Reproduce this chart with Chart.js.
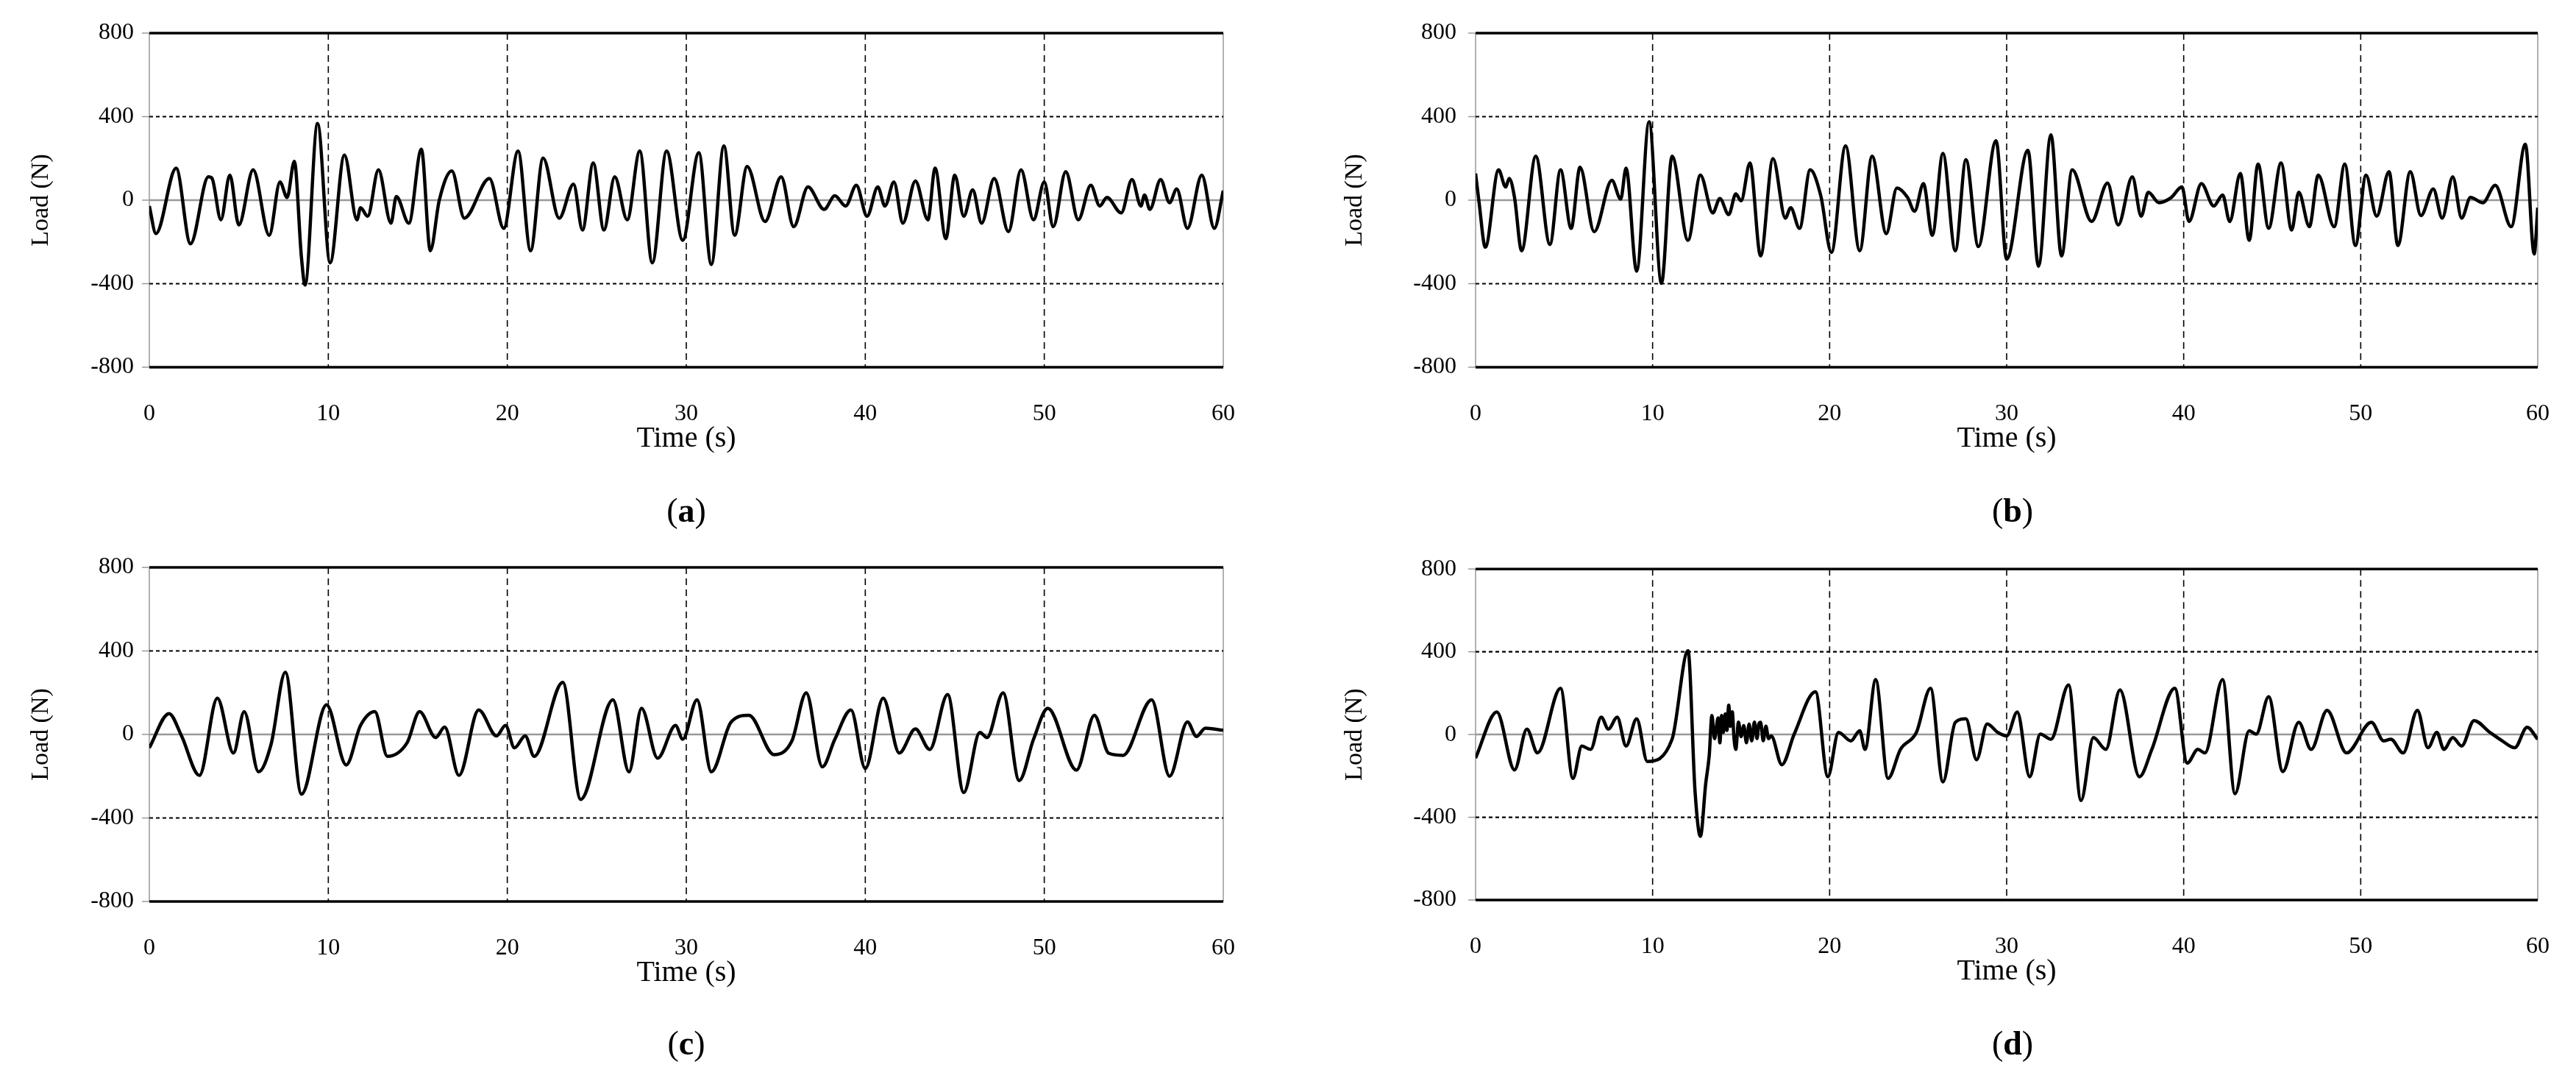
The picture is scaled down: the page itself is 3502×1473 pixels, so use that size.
<!DOCTYPE html>
<html><head><meta charset="utf-8">
<script src="https://cdn.jsdelivr.net/npm/chart.js@4.4.1/dist/chart.umd.min.js"></script>
<style>
body{margin:0;background:#fff;width:3502px;height:1473px;position:relative;overflow:hidden;font-family:"Liberation Serif",serif}
.p{position:absolute;width:1751px;height:736px}
.lab{position:absolute;font-size:46px;color:#000;transform:translate(-50%,-50%);white-space:nowrap}
</style></head><body>
<script>
const xTicks=[0,10,20,30,40,50,60];
const yTicks=[-800,-400,0,400,800];
const aT=[0,0.37,1.5,2.3,3.3,3.5,4.0,4.5,5.0,5.8,6.7,7.3,7.7,8.1,8.5,8.7,9.4,10.1,10.9,11.6,11.8,12.2,12.8,13.5,13.8,14.5,15.2,15.7,16.2,16.9,17.6,19.0,19.8,20.6,21.3,22.0,22.9,23.7,24.2,24.8,25.4,26.0,26.7,27.4,28.1,28.9,29.8,30.7,31.4,32.1,32.7,33.4,34.4,35.3,36.0,36.8,37.7,38.3,38.9,39.5,40.1,40.7,41.1,41.6,42.1,42.8,43.5,43.9,44.5,45.0,45.5,46.0,46.5,47.2,48.0,48.7,49.4,50.0,50.5,51.2,51.9,52.6,53.1,53.5,54.3,54.9,55.4,55.6,55.9,56.5,57.0,57.4,58.0,58.8,59.5,60];
const aV=[-28,-160,153,-209,112,105,-94,120,-119,145,-168,87,13,186,-275,-406,367,-300,216,-94,-36,-77,145,-110,18,-110,244,-242,0,140,-86,104,-135,235,-242,202,-86,77,-143,178,-143,112,-94,235,-300,235,-192,227,-308,260,-168,161,-102,112,-127,63,-44,21,-28,71,-77,63,-28,87,-110,92,-94,153,-184,120,-77,49,-110,104,-151,145,-94,87,-127,137,-94,71,-28,13,-61,99,-28,25,-44,99,-12,54,-135,120,-135,46];
const bT=[0,0.2,0.55,1.3,1.7,1.9,2.2,2.6,3.4,4.2,4.8,5.4,5.9,6.7,7.7,8.2,8.5,9.1,9.8,10.5,11.1,12.0,12.7,13.4,13.8,14.3,14.7,15.0,15.5,16.1,16.8,17.5,17.8,18.3,18.9,19.5,20.1,20.9,21.7,22.4,23.2,23.8,24.4,24.8,25.3,25.8,26.4,27.1,27.7,28.4,29.4,30.0,31.2,31.8,32.5,33.1,33.7,34.8,35.7,36.3,37.1,37.6,38.0,38.6,39.3,39.9,40.3,41.0,41.7,42.2,42.6,43.2,43.7,44.2,44.8,45.5,46.1,46.5,47.1,47.6,48.5,49.1,49.7,50.3,50.9,51.6,52.1,52.8,53.4,54.1,54.6,55.2,55.7,56.2,56.9,57.6,58.5,59.3,59.8,60];
const bV=[128,-12,-225,145,63,104,13,-242,211,-212,145,-135,158,-151,95,5,153,-340,375,-398,211,-192,120,-61,8,-69,30,-3,178,-267,199,-86,-36,-135,145,21,-250,260,-242,211,-160,58,13,-53,79,-168,224,-242,194,-222,285,-283,239,-316,313,-267,145,-102,82,-119,112,-77,38,-12,13,63,-102,79,-28,25,-102,128,-192,173,-135,178,-143,38,-127,120,-127,173,-217,120,-77,137,-217,137,-74,54,-86,112,-86,13,-12,71,-127,268,-258,-36];
const cT=[0,1.1,1.8,2.8,3.8,4.7,5.3,6.1,6.8,7.6,8.5,9.9,11.0,11.8,12.6,13.3,14.4,15.1,16.0,16.5,17.3,18.4,19.4,19.9,20.4,21.0,21.5,23.1,24.1,25.9,26.8,27.5,28.4,29.4,29.8,30.6,31.4,32.5,33.5,34.9,35.9,36.7,37.6,38.3,39.2,40.0,41.0,41.9,42.8,43.6,44.6,45.5,46.4,46.8,47.7,48.6,49.4,50.2,51.8,52.8,53.6,54.4,56.0,57.0,58.0,58.5,59.0,60];
const cV=[-64,100,-7,-196,174,-89,109,-179,-48,298,-286,142,-146,43,109,-105,-40,109,-15,35,-196,117,-7,43,-64,-7,-105,249,-311,166,-179,125,-114,43,-23,166,-179,59,92,-97,-31,199,-155,-23,117,-163,174,-89,26,-72,191,-278,10,-15,199,-221,-23,125,-171,92,-90,-100,166,-200,60,-10,30,20];
const dT=[0,1.2,2.2,2.9,3.5,4.8,5.5,6.0,6.5,7.1,7.5,8.0,8.5,9.1,9.7,11.1,12.0,12.4,12.7,13.0,13.2,13.35,13.5,13.7,13.8,13.9,14.0,14.1,14.2,14.3,14.4,14.5,14.6,14.7,14.85,15.0,15.15,15.3,15.45,15.6,15.75,15.9,16.0,16.1,16.25,16.4,16.55,16.7,17.3,18.0,19.2,19.9,20.5,21.2,21.7,22.0,22.6,23.3,24.0,24.9,25.7,26.4,27.1,27.7,28.3,28.9,29.5,30.0,30.6,31.3,31.9,32.5,33.5,34.2,34.9,35.6,36.4,37.5,38.2,39.5,40.2,40.8,41.2,42.2,42.9,43.7,44.1,44.8,45.6,46.5,47.2,48.1,49.2,50.6,51.3,51.7,52.4,53.2,53.8,54.3,54.7,55.2,55.7,56.4,57.3,58.0,58.7,59.4,60];
const dV=[-114,109,-171,26,-89,224,-212,-56,-72,84,26,84,-56,76,-130,-23,405,-278,-492,-237,-100,92,-20,80,-40,92,10,100,20,142,40,110,-20,-72,60,-10,43,-40,50,-31,60,-20,50,59,-30,40,-20,-7,-146,2,207,-204,10,-31,18,-72,265,-212,-72,10,224,-229,59,76,-122,51,10,-7,109,-204,2,-23,240,-319,-15,-72,216,-204,-72,224,-138,-72,-89,265,-286,18,2,183,-179,59,-72,117,-89,59,-31,-23,-89,117,-64,10,-72,-15,-56,67,10,-31,-64,35,-23];

const panels=[
 {T:aT,V:aV,left:0,top:0,pt:45,pb:116,yw:203,tp:13,tx:56,lab:'a',lx:933,ly:693},
 {T:bT,V:bV,left:1751,top:0,pt:45,pb:116,yw:255,tp:18,tx:91,lab:'b',lx:1751+985,ly:693},
 {T:cT,V:cV,left:0,top:736,pt:35,pb:126,yw:203,tp:13,tx:56,lab:'c',lx:933,ly:1417},
 {T:dT,V:dV,left:1751,top:736,pt:33,pb:128,yw:255,tp:18,tx:91,lab:'d',lx:1751+985,ly:1417}
];
const gridPlugin={id:'g',beforeDatasetsDraw(ch){
 const c=ch.ctx,a=ch.chartArea,x=ch.scales.x,y=ch.scales.y;
 c.save();
 c.strokeStyle='#999';c.lineWidth=1.5;c.setLineDash([]);
 c.beginPath();c.moveTo(a.left,a.top);c.lineTo(a.left,a.bottom);c.moveTo(a.right,a.top);c.lineTo(a.right,a.bottom);c.stroke();
 yTicks.forEach(v=>{const p=y.getPixelForValue(v);c.beginPath();c.moveTo(a.left-10,p);c.lineTo(a.left,p);c.stroke();});
 c.strokeStyle='#000';c.lineWidth=1.6;c.setLineDash([9,6]);
 xTicks.slice(1,-1).forEach(v=>{const p=x.getPixelForValue(v);c.beginPath();c.moveTo(p,a.top);c.lineTo(p,a.bottom);c.stroke();});
 c.lineWidth=2.2;c.setLineDash([5,4]);
 [400,-400].forEach(v=>{const p=y.getPixelForValue(v);c.beginPath();c.moveTo(a.left,p);c.lineTo(a.right,p);c.stroke();});
 c.setLineDash([]);c.strokeStyle='#999';c.lineWidth=2.5;
 {const p=y.getPixelForValue(0);c.beginPath();c.moveTo(a.left,p);c.lineTo(a.right,p);c.stroke();}
 c.strokeStyle='#000';c.lineWidth=3.5;
 [800,-800].forEach(v=>{const p=y.getPixelForValue(v);c.beginPath();c.moveTo(a.left,p);c.lineTo(a.right,p);c.stroke();});
 c.restore();}};
const F='"Liberation Serif", serif';
panels.forEach(P=>{
 const d=document.createElement('div');d.className='p';d.style.left=P.left+'px';d.style.top=P.top+'px';
 const cv=document.createElement('canvas');cv.width=1751;cv.height=736;
 cv.style.width='1751px';cv.style.height='736px';
 d.appendChild(cv);document.body.appendChild(d);
 const l=document.createElement('div');l.className='lab';l.style.left=P.lx+'px';l.style.top=P.ly+'px';
 l.innerHTML='(<b>'+P.lab+'</b>)';document.body.appendChild(l);
 new Chart(cv,{type:'line',
  data:{datasets:[{data:P.T.map((t,i)=>({x:t,y:P.V[i]})),borderColor:'#000',borderWidth:4.5,pointRadius:0,cubicInterpolationMode:'monotone',fill:false}]},
  plugins:[gridPlugin],
  options:{responsive:false,maintainAspectRatio:false,animation:false,devicePixelRatio:1,
   layout:{padding:{top:P.pt,bottom:P.pb,left:0,right:P.left?38:88}},
   plugins:{legend:{display:false},tooltip:{enabled:false}},
   scales:{
    x:{type:'linear',min:0,max:60,afterBuildTicks(s){s.ticks=xTicks.map(v=>({value:v}));},
     grid:{display:false},border:{display:false},
     ticks:{color:'#000',padding:36,maxRotation:0,font:{family:F,size:32}},
     title:{display:true,text:'Time (s)',color:'#000',font:{family:F,size:40},padding:0},
     afterFit(s){s.height=121;}},
    y:{min:-800,max:800,afterBuildTicks(s){s.ticks=yTicks.map(v=>({value:v}));},
     grid:{display:false},border:{display:false},
     ticks:{color:'#000',padding:P.tp,font:{family:F,size:32}},
     title:{display:true,text:'Load (N)',color:'#000',font:{family:F,size:34},padding:{top:P.tx-20,bottom:0}},
     afterFit(s){s.width=P.yw;}}
   }}});
});
</script>
</body></html>
